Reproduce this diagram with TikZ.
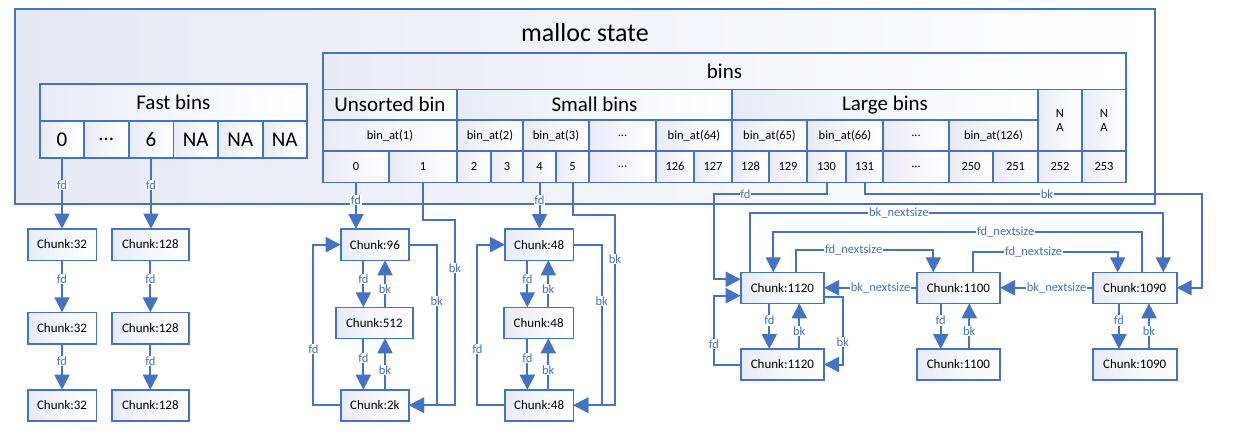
\documentclass[tikz,border=0pt]{standalone}
\usepackage{fontspec}
\setmainfont{Carlito}
\usetikzlibrary{arrows.meta}
\definecolor{bblue}{HTML}{4472C4}
\definecolor{lav}{HTML}{E8EAF6}
\definecolor{outerlav}{HTML}{E6E8F4}
\newcommand\bx[7]{\node[#1,minimum width={#5-#3},minimum height={#6-#4}] (#2) at ({(#3+#5)/2},{(#4+#6)/2}) {#7};}
\begin{document}
\begin{tikzpicture}[x=1pt,y=-1pt,
  cellbox/.style={draw=bblue, line width=1.6pt, left color=lav, right color=white, middle color=white!60!lav, inner sep=0pt, outer sep=0pt, text=black, font=\fontsize{12.5}{15}\selectfont},
  bigcell/.style={cellbox, font=\fontsize{21}{25}\selectfont},
  outerbox/.style={draw=bblue, line width=1.6pt, left color=outerlav, right color=white, inner sep=0pt, outer sep=0pt},
  chunk/.style={cellbox, font=\fontsize{13}{15}\selectfont},
  conn/.style={draw=bblue, line width=2pt, -{Triangle[width=15pt,length=15pt]}},
  lbl/.style={fill=white, text=bblue, font=\fontsize{12.5}{14}\selectfont, inner sep=0.8pt},
]
\useasboundingbox (0,0) rectangle (1242,440);
% outer state
\bx{outerbox}{state}{15}{9}{1155}{204}{}
\node[font=\fontsize{26}{30}\selectfont] (title) at (585,33) {malloc state};
% fast bins
\bx{bigcell}{fh}{40}{84}{306.7}{121}{Fast bins}
\bx{bigcell}{fc0}{40}{121}{84}{158}{0}
\bx{bigcell}{fc1}{84}{121}{128.7}{158}{...}
\bx{bigcell}{fc2}{128.7}{121}{173.3}{158}{6}
\bx{bigcell}{fc3}{173.3}{121}{218}{158}{NA}
\bx{bigcell}{fc4}{218}{121}{262.7}{158}{NA}
\bx{bigcell}{fc5}{262.7}{121}{306.7}{158}{NA}
% bins
\bx{bigcell}{bh}{323}{52.7}{1126}{89.3}{bins}
\bx{bigcell}{us}{323}{89.3}{457}{120}{Unsorted bin}
\bx{bigcell}{sm}{457}{89.3}{732}{120}{Small bins}
\bx{bigcell}{lg}{732}{89.3}{1038}{120}{Large bins}
\bx{cellbox,align=center}{na1}{1038}{89.3}{1082}{151}{N\\[-1pt]A}
\bx{cellbox,align=center}{na2}{1082}{89.3}{1126}{151}{N\\[-1pt]A}
\bx{cellbox}{ba1}{323}{120}{457}{151}{bin\_at(1)}
\bx{cellbox}{ba2}{457}{120}{523}{151}{bin\_at(2)}
\bx{cellbox}{ba3}{523}{120}{589}{151}{bin\_at(3)}
\bx{cellbox}{bad1}{589}{120}{656}{151}{...}
\bx{cellbox}{ba64}{656}{120}{732}{151}{bin\_at(64)}
\bx{cellbox}{ba65}{732}{120}{807}{151}{bin\_at(65)}
\bx{cellbox}{ba66}{807}{120}{883}{151}{bin\_at(66)}
\bx{cellbox}{bad2}{883}{120}{949}{151}{...}
\bx{cellbox}{ba126}{949}{120}{1038}{151}{bin\_at(126)}
\bx{cellbox}{uc0}{323}{151}{389}{182.3}{0}
\bx{cellbox}{uc1}{389}{151}{457}{182.3}{1}
\bx{cellbox}{ic2}{457}{151}{491}{182.3}{2}
\bx{cellbox}{ic3}{491}{151}{523}{182.3}{3}
\bx{cellbox}{sc4}{523}{151}{556}{182.3}{4}
\bx{cellbox}{sc5}{556}{151}{589}{182.3}{5}
\bx{cellbox}{idt1}{589}{151}{656}{182.3}{...}
\bx{cellbox}{ic126}{656}{151}{694}{182.3}{126}
\bx{cellbox}{ic127}{694}{151}{732}{182.3}{127}
\bx{cellbox}{ic128}{732}{151}{769}{182.3}{128}
\bx{cellbox}{ic129}{769}{151}{807}{182.3}{129}
\bx{cellbox}{lc130}{807}{151}{846}{182.3}{130}
\bx{cellbox}{lc131}{846}{151}{883}{182.3}{131}
\bx{cellbox}{idt2}{883}{151}{949}{182.3}{...}
\bx{cellbox}{ic250}{949}{151}{993}{182.3}{250}
\bx{cellbox}{ic251}{993}{151}{1038}{182.3}{251}
\bx{cellbox}{ic252}{1038}{151}{1082}{182.3}{252}
\bx{cellbox}{ic253}{1082}{151}{1126}{182.3}{253}
% chunks fast
\bx{chunk}{f1}{27.7}{228.7}{96.3}{260.3}{Chunk:32}
\bx{chunk}{f2}{27.7}{312.3}{96.3}{343.7}{Chunk:32}
\bx{chunk}{f3}{27.7}{389.7}{96.3}{420.7}{Chunk:32}
\bx{chunk}{g1}{112}{228.7}{188.7}{260.3}{Chunk:128}
\bx{chunk}{g2}{112}{312.3}{188.7}{343.7}{Chunk:128}
\bx{chunk}{g3}{112}{389.7}{188.7}{420.7}{Chunk:128}
% unsorted
\bx{chunk}{u1}{340.7}{229}{409}{260.3}{Chunk:96}
\bx{chunk}{u2}{336}{307.3}{412.7}{338.3}{Chunk:512}
\bx{chunk}{u3}{340.7}{389.7}{409}{420.7}{Chunk:2k}
% small
\bx{chunk}{s1}{505}{229}{573.3}{260.3}{Chunk:48}
\bx{chunk}{s2}{504}{307.3}{573.3}{338.3}{Chunk:48}
\bx{chunk}{s3}{505}{389.7}{573.3}{420.7}{Chunk:48}
% large
\bx{chunk}{L1}{740.7}{272.3}{824}{303.3}{Chunk:1120}
\bx{chunk}{L2}{740.7}{349}{824}{380}{Chunk:1120}
\bx{chunk}{M1}{916.7}{272.3}{1000}{303.3}{Chunk:1100}
\bx{chunk}{M2}{916.7}{349}{1000}{380}{Chunk:1100}
\bx{chunk}{N1}{1092.7}{272.3}{1176.7}{303.3}{Chunk:1090}
\bx{chunk}{N2}{1092.7}{349}{1176.7}{380}{Chunk:1090}
% fast connectors
\draw[conn] (fc0.south) -- node[lbl,pos=0.38]{fd} (fc0.south |- f1.north);
\draw[conn] (f1.south) -- node[lbl,pos=0.36]{fd} (f2.north);
\draw[conn] (f2.south) -- node[lbl,pos=0.38]{fd} (f3.north);
\draw[conn] (fc2.south) -- node[lbl,pos=0.38]{fd} (fc2.south |- g1.north);
\draw[conn] (g1.south) -- node[lbl,pos=0.36]{fd} (g2.north);
\draw[conn] (g2.south) -- node[lbl,pos=0.38]{fd} (g3.north);
% unsorted connectors
\draw[conn] (uc0.south) -- node[lbl,pos=0.38]{fd} (uc0.south |- u1.north);
\draw[conn] (uc1.south) |- (455,220) -- node[lbl,pos=0.26]{bk} (455,0 |- u3.east) -- (u3.east);
\draw[conn] (u1.east) -- (436.7,0 |- u1.east) -- node[lbl,pos=0.35]{bk} (436.7,0 |- u3.east) -- (u3.east);
\draw[conn] (u3.west) -- (313.3,0 |- u3.west) -- node[lbl,pos=0.35]{fd} (313.3,0 |- u1.west) -- (u1.west);
\draw[conn] (363.3,0 |- u1.south) -- node[lbl,pos=0.4]{fd} (363.3,0 |- u2.north);
\draw[conn] (385,0 |- u2.north) -- node[lbl,pos=0.39]{bk} (385,0 |- u1.south);
\draw[conn] (363.3,0 |- u2.south) -- node[lbl,pos=0.38]{fd} (363.3,0 |- u3.north);
\draw[conn] (385,0 |- u3.north) -- node[lbl,pos=0.38]{bk} (385,0 |- u2.south);
% small connectors
\draw[conn] (sc4.south) -- node[lbl,pos=0.38]{fd} (sc4.south |- s1.north);
\draw[conn] (sc5.south) |- (615,215) -- node[lbl,pos=0.23]{bk} (615,0 |- s3.east) -- (s3.east);
\draw[conn] (s1.east) -- (601.7,0 |- s1.east) -- node[lbl,pos=0.35]{bk} (601.7,0 |- s3.east) -- (s3.east);
\draw[conn] (s3.west) -- (477.3,0 |- s3.west) -- node[lbl,pos=0.35]{fd} (477.3,0 |- s1.west) -- (s1.west);
\draw[conn] (527.3,0 |- s1.south) -- node[lbl,pos=0.4]{fd} (527.3,0 |- s2.north);
\draw[conn] (548.3,0 |- s2.north) -- node[lbl,pos=0.39]{bk} (548.3,0 |- s1.south);
\draw[conn] (527.3,0 |- s2.south) -- node[lbl,pos=0.38]{fd} (527.3,0 |- s3.north);
\draw[conn] (548.3,0 |- s3.north) -- node[lbl,pos=0.38]{bk} (548.3,0 |- s2.south);
% large connectors
\draw[conn] (lc130.south) -- (lc130.south |- 0,194.3) -- node[lbl,pos=0.72]{fd} (714,194.3) -- (714,279.3) -- (L1.west |- 0,279.3);
\draw[conn] (lc131.south) -- (lc131.south |- 0,194.3) -- node[lbl,pos=0.54]{bk} (1202.3,194.3) |- (N1.east);
\draw[conn] (750,0 |- L1.north) -- (750,213.3) -- node[lbl,pos=0.36]{bk\_nextsize} (1163.3,213.3) -- (1163.3,0 |- N1.north);
\draw[conn] (1142.3,0 |- N1.north) -- (1142.3,231.7) -- node[lbl,pos=0.37]{fd\_nextsize} (773.3,231.7) -- (773.3,0 |- L1.north);
\draw[conn] (796,0 |- L1.north) -- (796,250) -- node[lbl,pos=0.42]{fd\_nextsize} (933.3,250) -- (933.3,0 |- M1.north);
\draw[conn] (972.7,0 |- M1.north) -- (972.7,251.5) -- node[lbl,pos=0.42]{fd\_nextsize} (1117.7,251.5) -- (1117.7,0 |- N1.north);
\draw[conn] (M1.west) -- node[lbl,pos=0.39]{bk\_nextsize} (L1.east);
\draw[conn] (N1.west) -- node[lbl,pos=0.39]{bk\_nextsize} (M1.east);
\draw[conn] (769.3,0 |- L1.south) -- node[lbl,pos=0.38]{fd} (769.3,0 |- L2.north);
\draw[conn] (799.3,0 |- L2.north) -- node[lbl,pos=0.4]{bk} (799.3,0 |- L1.south);
\draw[conn] (L1.east |- 0,296.7) -- (842.7,296.7) -- node[lbl,pos=0.67]{bk} (842.7,0 |- L2.east) -- (L2.east);
\draw[conn] (L2.west) -- (714,0 |- L2.west) -- node[lbl,pos=0.3]{fd} (714,295.7) -- (L1.west |- 0,295.7);
\draw[conn] (940.7,0 |- M1.south) -- node[lbl,pos=0.38]{fd} (940.7,0 |- M2.north);
\draw[conn] (969.3,0 |- M2.north) -- node[lbl,pos=0.4]{bk} (969.3,0 |- M1.south);
\draw[conn] (1119,0 |- N1.south) -- node[lbl,pos=0.38]{fd} (1119,0 |- N2.north);
\draw[conn] (1149,0 |- N2.north) -- node[lbl,pos=0.4]{bk} (1149,0 |- N1.south);
\end{tikzpicture}
\end{document}
